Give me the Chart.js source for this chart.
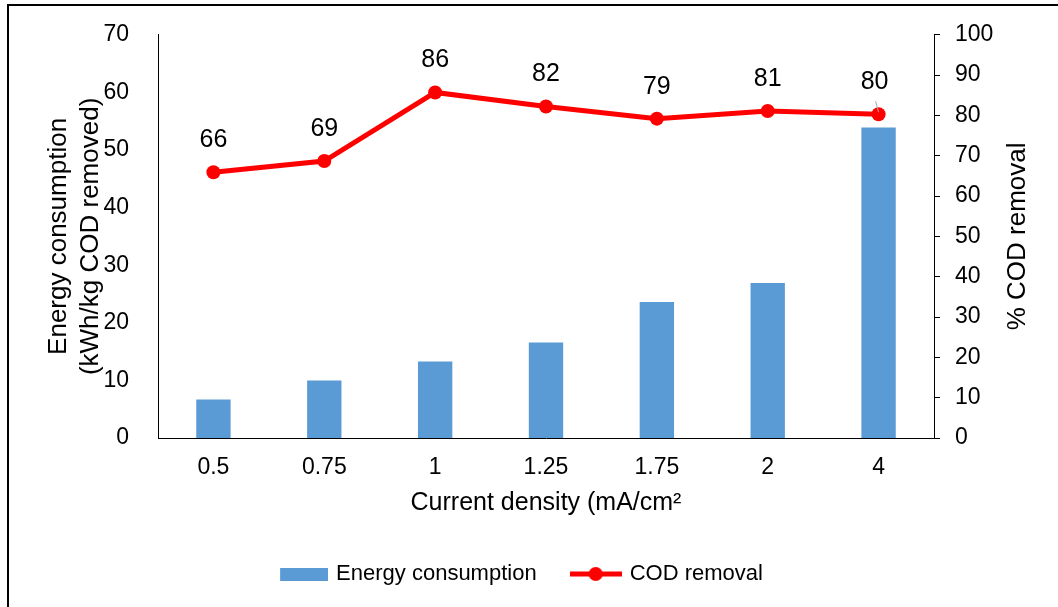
<!DOCTYPE html>
<html>
<head>
<meta charset="utf-8">
<script src="https://cdn.jsdelivr.net/npm/chart.js@4.4.1/dist/chart.umd.min.js"></script>
<style>
  html, body { margin: 0; padding: 0; background: #fff; overflow: hidden; }
  #wrap { width: 1058px; height: 607px; position: relative; }
</style>
</head>
<body>
<div id="wrap"><canvas id="chart"></canvas></div>
<script>
// values
const densities = ['0.5', '0.75', '1', '1.25', '1.75', '2', '4'];
const energyConsumption = [6.7, 10.0, 13.3, 16.6, 23.6, 26.9, 53.9];
const codRemoval = [65.9, 68.7, 85.7, 82.2, 79.2, 81.1, 80.3];
const codLabels = ['66', '69', '86', '82', '79', '81', '80'];

const FONT = '"Liberation Sans", Arial, sans-serif';
const BLUE = '#5B9BD5';
const RED = '#FF0000';

Chart.defaults.font.family = FONT;
Chart.defaults.color = '#000';

// legend icons (bar box and line-with-marker)
function legendIcon(kind) {
  const c = document.createElement('canvas');
  c.width = 52;
  c.height = 16;
  const g = c.getContext('2d');
  if (kind === 'bar') {
    g.fillStyle = BLUE;
    g.fillRect(4, 2, 48, 13);
  } else {
    g.strokeStyle = RED;
    g.lineWidth = 5;
    g.beginPath();
    g.moveTo(0, 8);
    g.lineTo(52, 8);
    g.stroke();
    g.fillStyle = RED;
    g.beginPath();
    g.arc(26, 8, 7, 0, Math.PI * 2);
    g.fill();
  }
  return c;
}

// data labels above the COD points, frame and right axis title
const extras = {
  id: 'extras',
  afterDatasetsDraw(chart) {
    const ctx = chart.ctx;
    const meta = chart.getDatasetMeta(1);
    ctx.save();
    ctx.font = '25px ' + FONT;
    ctx.fillStyle = '#000';
    ctx.textAlign = 'center';
    ctx.textBaseline = 'middle';
    meta.data.forEach((pt, i) => {
      let x = pt.x;
      if (i === meta.data.length - 1) {
        x -= 4;
        ctx.strokeStyle = '#A6A6A6';
        ctx.lineWidth = 1;
        ctx.beginPath();
        ctx.moveTo(pt.x - 3, pt.y - 13);
        ctx.lineTo(pt.x, pt.y - 2);
        ctx.stroke();
      }
      ctx.fillText(codLabels[i], x, pt.y - 32);
    });
    ctx.restore();
  },
  afterDraw(chart) {
    const ctx = chart.ctx;
    const area = chart.chartArea;
    ctx.save();
    ctx.strokeStyle = '#000';
    ctx.lineWidth = 2;
    ctx.strokeRect(8, 5, 1200, 800);
    ctx.translate(1018, (area.top + area.bottom) / 2);
    ctx.rotate(-Math.PI / 2);
    ctx.font = '26px ' + FONT;
    ctx.fillStyle = '#000';
    ctx.textAlign = 'center';
    ctx.textBaseline = 'middle';
    ctx.fillText('% COD removal', 0, 0);
    ctx.restore();
  }
};

const ctx = document.getElementById('chart').getContext('2d');
new Chart(ctx, {
  type: 'bar',
  data: {
    labels: densities,
    datasets: [
      {
        label: 'Energy consumption',
        data: energyConsumption,
        backgroundColor: BLUE,
        yAxisID: 'y',
        order: 2,
        barPercentage: 0.31,
        categoryPercentage: 1
      },
      {
        type: 'line',
        label: 'COD removal',
        data: codRemoval,
        borderColor: RED,
        backgroundColor: RED,
        borderWidth: 5,
        pointRadius: 7,
        pointHoverRadius: 7,
        pointBackgroundColor: RED,
        pointBorderWidth: 0,
        yAxisID: 'y1',
        order: 1
      }
    ]
  },
  options: {
    responsive: true,
    maintainAspectRatio: false,
    animation: false,
    layout: {
      padding: { top: 33, bottom: 12, left: 0, right: 16 }
    },
    scales: {
      x: {
        grid: { display: false },
        border: { display: true, color: '#000', width: 1 },
        ticks: { font: { size: 23 }, padding: 8, color: '#000' },
        title: {
          display: true,
          text: 'Current density (mA/cm²',
          font: { size: 25 },
          color: '#000',
          padding: { top: 0, bottom: 9 }
        },
        afterFit: (scale) => { scale.height = 89; }
      },
      y: {
        position: 'left',
        min: 0,
        max: 70,
        grid: { display: false },
        border: { display: true, color: '#000', width: 1 },
        ticks: { stepSize: 10, font: { size: 23 }, padding: 21, color: '#000' },
        title: {
          display: true,
          text: ['Energy consumption', '(kWh/kg COD removed)'],
          font: { size: 26, lineHeight: 1.23 },
          color: '#000',
          padding: { top: 43, bottom: 0 }
        },
        afterFit: (scale) => { scale.width = 158; }
      },
      y1: {
        position: 'right',
        min: 0,
        max: 100,
        grid: {
          display: true,
          drawOnChartArea: false,
          drawTicks: true,
          tickLength: 6,
          color: '#000'
        },
        border: { display: true, color: '#000', width: 1 },
        ticks: { stepSize: 10, font: { size: 23 }, padding: 15, color: '#000' },
        afterFit: (scale) => { scale.width = 108; }
      }
    },
    plugins: {
      tooltip: { enabled: false },
      legend: {
        position: 'bottom',
        labels: {
          usePointStyle: true,
          pointStyleWidth: 46,
          padding: 36,
          font: { size: 22 },
          color: '#000',
          generateLabels: (chart) => chart.data.datasets.map((ds, i) => ({
            text: ds.label,
            pointStyle: legendIcon(i === 0 ? 'bar' : 'line'),
            fillStyle: ds.backgroundColor,
            strokeStyle: ds.backgroundColor,
            lineWidth: 0,
            hidden: false,
            datasetIndex: i,
            fontColor: '#000'
          }))
        }
      }
    }
  },
  plugins: [extras]
});
</script>
</body>
</html>
